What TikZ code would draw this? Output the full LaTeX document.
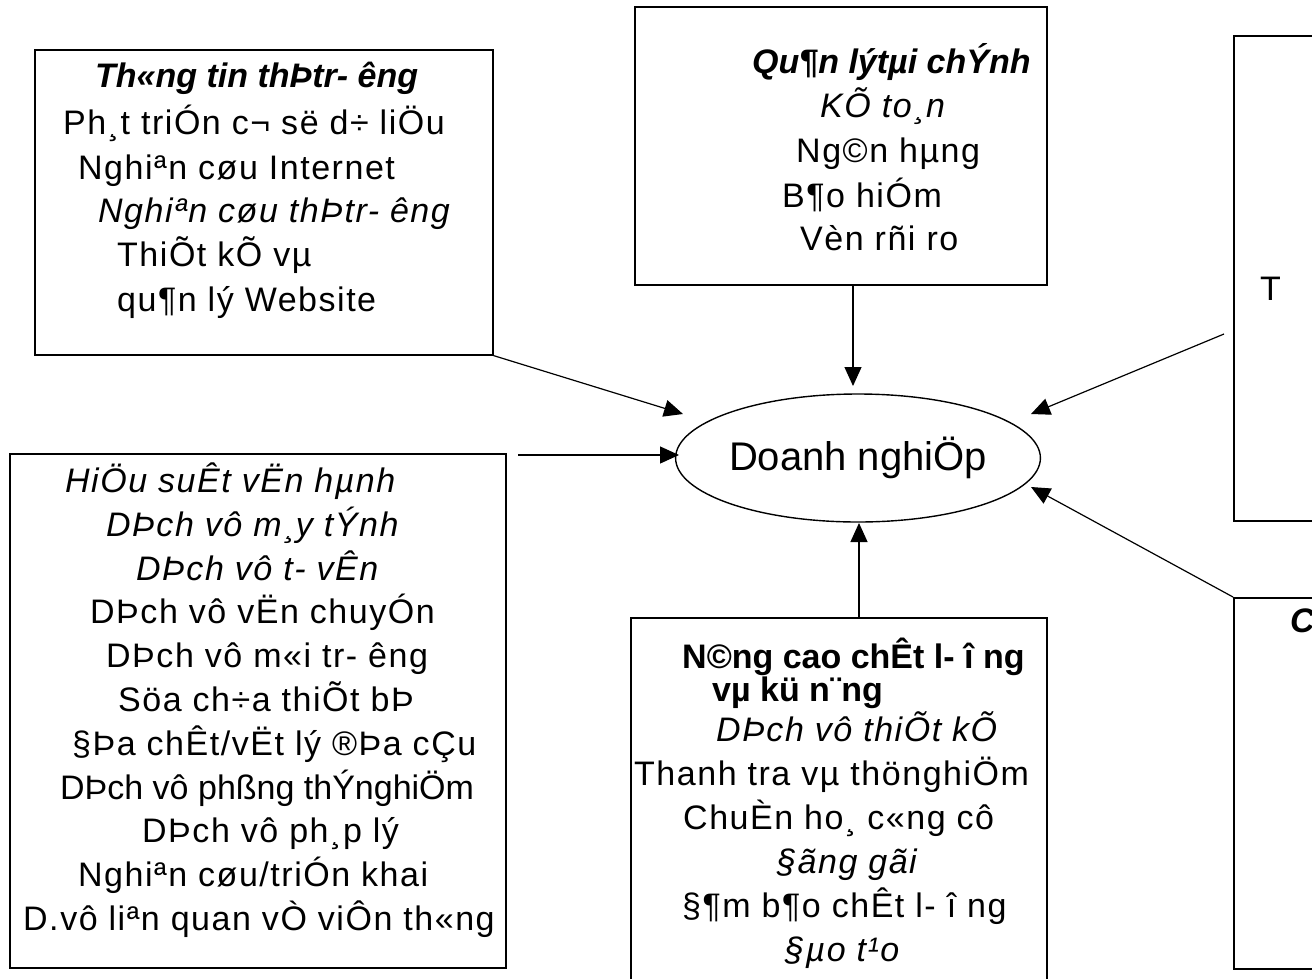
\documentclass[tikz,border=0pt]{standalone}
\usepackage{fontspec}
\setmainfont{Liberation Sans}[LetterSpace=4.5]
\newfontfamily\headfont{Liberation Sans}
\usetikzlibrary{arrows.meta,positioning,shapes.geometric}

\begin{document}
\begin{tikzpicture}[x=1pt,y=-1pt,
  panel/.style={draw,line width=1.6pt,anchor=north west,inner sep=0pt},
  entry/.style={anchor=base west,inner sep=0pt,font=\fontsize{34}{42}\selectfont},
  feed/.style={-{Triangle[length=19pt,width=17pt]},line width=1.2pt}]
\useasboundingbox (0,0) rectangle (1312,978);

% boxes round the firm
\node[panel,minimum width=458pt,minimum height=305pt] (market) at (34,49) {};
\node[panel,minimum width=412pt,minimum height=278pt] (finance) at (634,6) {};
\node[panel,minimum width=200pt,minimum height=485pt] (tech) at (1233,35) {};
\node[panel,minimum width=496pt,minimum height=514pt] (ops) at (9,453) {};
\node[panel,minimum width=416pt,minimum height=400pt] (quality) at (630,617) {};
\node[panel,minimum width=200pt,minimum height=371pt] (lab) at (1233,597) {};

\node[draw,ellipse,line width=1.4pt,minimum width=344pt,minimum height=128pt,inner sep=0pt,
  font=\fontsize{40}{48}\headfont] (firm) at (858,458) {Doanh nghiÖp};

% texts
\foreach \lx/\ly/\lf/\lt [count=\i] in {
  95/87/\headfont\bfseries\itshape/{Th«ng tin thÞtr- êng},
  63/134/\relax/{Ph¸t triÓn c¬ së d÷ liÖu},
  78/179/\relax/{Nghiªn cøu Internet},
  98/222/\itshape/{Nghiªn cøu thÞtr- êng},
  117/266/\relax/{ThiÕt kÕ vµ},
  117/311/\relax/{qu¶n lý Website}}
  \node[entry] (market-\i) at (\lx,\ly) {\lf\lt};

\foreach \lx/\ly/\lf/\lt [count=\i] in {
  752/73/\headfont\bfseries\itshape/{Qu¶n lýtµi chÝnh},
  820/117/\itshape/{KÕ to¸n},
  796/162/\relax/{Ng©n hµng},
  782/207/\relax/{B¶o hiÓm},
  800/250/\relax/{Vèn rñi ro}}
  \node[entry] (finance-\i) at (\lx,\ly) {\lf\lt};

\foreach \lx/\ly/\lf/\lt [count=\i] in {
  65/492/\itshape/{HiÖu suÊt vËn hµnh},
  106/536/\itshape/{DÞch vô m¸y tÝnh},
  136/580/\itshape/{DÞch vô t- vÊn},
  90/623/\relax/{DÞch vô vËn chuyÓn},
  106/667/\relax/{DÞch vô m«i tr- êng},
  118/711/\relax/{Söa ch÷a thiÕt bÞ},
  72/755/\relax/{§Þa chÊt/vËt lý ®Þa cÇu},
  60/799/\headfont/{DÞch vô phßng thÝnghiÖm},
  142/842/\relax/{DÞch vô ph¸p lý},
  78/886/\relax/{Nghiªn cøu/triÓn khai},
  23/930/\relax/{D.vô liªn quan vÒ viÔn th«ng}}
  \node[entry] (ops-\i) at (\lx,\ly) {\lf\lt};

\foreach \lx/\ly/\lf/\lt [count=\i] in {
  682/668/\headfont\bfseries/{N©ng cao chÊt l- î ng},
  712/701/\headfont\bfseries/{vµ kü n¨ng},
  716/741/\itshape/{DÞch vô thiÕt kÕ},
  634/785/\relax/{Thanh tra vµ thönghiÖm},
  683/829/\relax/{ChuÈn ho¸ c«ng cô},
  777/873/\itshape/{§ãng gãi},
  682/917/\relax/{§¶m b¶o chÊt l- î ng},
  785/961/\itshape/{§µo t¹o}}
  \node[entry] (quality-\i) at (\lx,\ly) {\lf\lt};

\node[entry] (tech-1) at (1260,300) {T};
\node[entry,font=\fontsize{34}{42}\headfont\bfseries\itshape] (lab-1) at (1290,632) {C};

% arrow ends
\coordinate (tipMarket) at (683,414);
\coordinate (tipFinance) at (853,386);
\coordinate (tipTech) at (1031,414);
\coordinate (fromTech) at (1224,334);
\coordinate (fromOps) at (518,455);
\coordinate (tipOps) at (679,455);
\coordinate (tipQuality) at (859,523);
\coordinate (tipLab) at (1031,487);

\draw[feed] (market.south east) -- (tipMarket);
\draw[feed] (finance.south -| tipFinance) -- (tipFinance);
\draw[feed] (fromTech) -- (tipTech);
\draw[feed] (fromOps) -- (tipOps);
\draw[feed] (quality.north -| tipQuality) -- (tipQuality);
\draw[feed] (lab.north west) -- (tipLab);
\end{tikzpicture}
\end{document}
